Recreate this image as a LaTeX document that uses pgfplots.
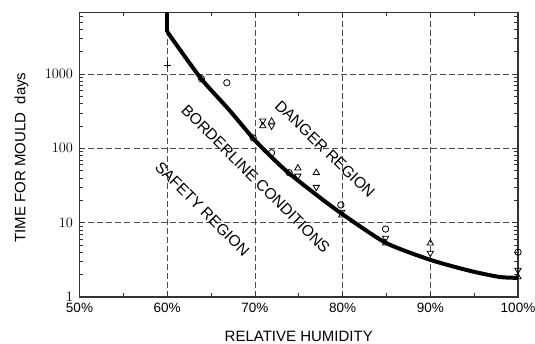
\documentclass[border=0pt]{standalone}
\usepackage{pgfplots}
\pgfplotsset{compat=1.18}
\usepackage{fontspec}
\setmainfont{Liberation Sans}
\begin{document}
\begin{tikzpicture}
\useasboundingbox (-79.5pt,-46pt) rectangle (455.5pt,297pt);
\begin{axis}[
  at={(0,0)}, anchor=south west,
  scale only axis, width=438.5pt, height=284.5pt,
  xmin=50, xmax=100, ymode=log, ymin=1, ymax=6700,
  xtick={50,60,70,80,90,100},
  xticklabels={50\%,60\%,70\%,80\%,90\%,100\%},
  minor xtick={55,65,75,85,95},
  ytick={1,10,100,1000},
  yticklabels={$1$,$10$,$100$,$1000$},
  minor ytick={2,3,4,5,6,7,8,9,20,30,40,50,60,70,80,90,200,300,400,500,600,700,800,900,2000,3000,4000,5000,6000},
  major tick length=5pt, minor tick length=4pt,
  tick style={black!80, line width=0.6pt},
  axis line style={black!80, line width=1.1pt},
  grid=major,
  major grid style={black!70, line width=0.7pt, dash pattern=on 6pt off 3pt},
  xticklabel style={font=\fontsize{13.5}{15}\selectfont, yshift=-3pt},
  yticklabel style={font=\fontsize{14}{16}\selectfont, xshift=-3pt},
  xlabel={RELATIVE HUMIDITY},
  ylabel={TIME FOR MOULD\ \ days},
  xlabel style={font=\fontsize{15}{17}\selectfont, at={(axis description cs:0.5,-0.137)}, anchor=center},
  ylabel style={font=\fontsize{15}{17}\selectfont, at={(axis description cs:-0.132,0.49)}, anchor=center, rotate=0},
  clip=false,
]
% fitted curve
\addplot[black, line width=4pt, line cap=butt] coordinates {(60,6700) (60,3697)};
\addplot[black, line width=4pt, smooth, tension=0.4] coordinates {
(60,3697) (63.8,883) (67.0,335) (69.9,132) (72.0,74) (73.9,46) (77.0,23.7) (79.9,13.2) (84.9,5.37) (90.0,3.16) (94.5,2.25) (97.9,1.86) (100,1.81)};
% plus
\addplot[only marks, mark=+, mark size=3.5pt, black, line width=0.8pt] coordinates {(60,1320)};
% circles
\addplot[only marks, mark=o, mark size=3.2pt, black, line width=0.8pt, mark options={fill=white}] coordinates {
(63.9,860) (66.8,760) (69.8,138) (71.9,87) (73.9,47) (79.8,17.3) (84.9,8.2) (100,4.0)};
% up triangles
\addplot[only marks, mark=triangle, mark size=3.6pt, black, line width=0.8pt] coordinates {
(70.9,200) (71.9,230) (74.9,54) (77.0,47) (79.9,12.6) (84.9,5.3) (90,5.3) (100,1.86)};
% down triangles
\addplot[only marks, mark=triangle, mark options={rotate=180}, mark size=3.6pt, black, line width=0.8pt] coordinates {
(70.9,234) (71.9,200) (74.9,42.5) (77.0,30) (79.9,13.9) (84.9,6.2) (90,3.9) (100,2.3)};
% annotations
\node[font=\fontsize{15.5}{18}\selectfont, rotate=-45] at (axis cs:64.0,15.3) {SAFETY REGION};
\node[font=\fontsize{15.5}{18}\selectfont, rotate=-45] at (axis cs:70.1,38.7) {BORDERLINE CONDITIONS};
\node[font=\fontsize{15.5}{18}\selectfont, rotate=-44] at (axis cs:78.0,98) {DANGER REGION};
\end{axis}
\end{tikzpicture}
\end{document}
